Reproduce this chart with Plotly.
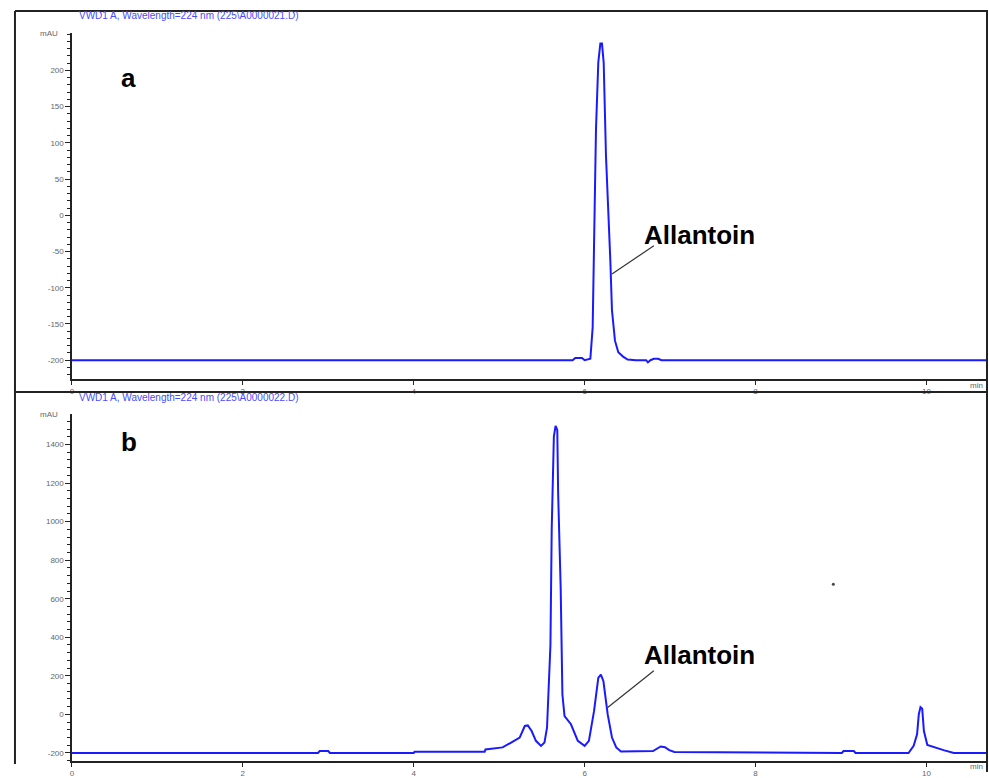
import plotly.graph_objects as go

OX, OY = 0, 0
W, H = 989, 778

# ---------------- data ----------------
# Panel a: retention time (min) and signal (mAU)
time_a = [0.0, 5.86, 5.89, 5.97, 6.00, 6.067, 6.094, 6.114, 6.133, 6.160, 6.184,
          6.203, 6.223, 6.250, 6.277, 6.301, 6.320, 6.355, 6.394, 6.45, 6.503,
          6.60, 6.72, 6.74, 6.77, 6.81, 6.834, 6.86, 6.90, 10.72]
signal_a = [-200, -200, -197, -197, -200, -198, -155, -18, 119, 211, 237,
            237, 211, 82, 10, -63, -131, -173, -189, -195, -199,
            -200, -200, -203, -200, -198, -198, -198, -200, -200]

# Panel b
time_b = [0.0, 2.88, 2.90, 3.00, 3.02, 4.00, 4.01, 4.83, 4.84, 5.04, 5.14, 5.24,
          5.30, 5.335, 5.38, 5.43, 5.49, 5.53, 5.56, 5.577, 5.60, 5.615, 5.64,
          5.66, 5.68, 5.69, 5.72, 5.74, 5.765, 5.84, 5.92, 6.00, 6.05, 6.11,
          6.16, 6.19, 6.22, 6.27, 6.32, 6.37, 6.425, 6.80, 6.85, 6.89, 6.94,
          6.99, 7.05, 9.01, 9.03, 9.15, 9.17, 9.79, 9.85, 9.89, 9.91, 9.93,
          9.95, 9.97, 10.01, 10.09, 10.20, 10.32, 10.72]
signal_b = [-200, -200, -190, -190, -200, -200, -193, -193, -182, -171, -146, -120,
            -60, -57, -86, -137, -163, -146, -69, 154, 360, 961, 1441,
            1496, 1475, 1150, 652, 103, -9, -51, -137, -163, -137, 17,
            189, 206, 172, 0, -120, -171, -192, -190, -175, -166, -170,
            -185, -195, -200, -190, -190, -200, -200, -163, -103, 0, 38,
            30, -86, -158, -170, -185, -200, -200]

# stray dot visible in panel b
dot_time = [8.91]
dot_signal = [675]

x_ticks = [0, 2, 4, 6, 8, 10]
y_ticks_a = [-200, -150, -100, -50, 0, 50, 100, 150, 200]
y_ticks_b = [-200, 0, 200, 400, 600, 800, 1000, 1200, 1400]

title_a = "VWD1 A, Wavelength=224 nm (225\\A0000021.D)"
title_b = "VWD1 A, Wavelength=224 nm (225\\A0000022.D)"
peak_label = "Allantoin"

# ---------------- figure ----------------
def px(x):
    return (x - OX) / W

def py(y):
    return 1 - (y - OY) / H

blue = "#1a1aff"
fig = go.Figure()
fig.add_trace(go.Scatter(x=time_a, y=signal_a, mode="lines",
                         line=dict(color=blue, width=2), xaxis="x", yaxis="y",
                         showlegend=False, hoverinfo="skip"))
fig.add_trace(go.Scatter(x=time_b, y=signal_b, mode="lines",
                         line=dict(color=blue, width=2), xaxis="x2", yaxis="y2",
                         showlegend=False, hoverinfo="skip"))
fig.add_trace(go.Scatter(x=dot_time, y=dot_signal, mode="markers",
                         marker=dict(color="#444", size=3), xaxis="x2", yaxis="y2",
                         showlegend=False, hoverinfo="skip"))

xdom = [px(70), px(988)]
tickfont = dict(family="Liberation Sans, Arial", size=8, color="#666")
xcommon = dict(domain=xdom, range=[0, 10.72], tickvals=x_ticks,
               ticktext=[str(v) for v in x_ticks],
               showgrid=False, zeroline=False, showline=True, linecolor="#222",
               linewidth=1.5, ticks="outside", ticklen=4, tickcolor="#222",
               tickfont=tickfont, fixedrange=True)
ycommon = dict(showgrid=False, zeroline=False, showline=True, linecolor="#222",
               linewidth=1.5, ticks="outside", ticklen=5, tickcolor="#222",
               tickfont=tickfont, fixedrange=True)

fig.update_layout(
    width=W, height=H,
    margin=dict(l=0, r=0, t=0, b=0),
    paper_bgcolor="white", plot_bgcolor="white",
    xaxis=dict(anchor="y", **xcommon),
    xaxis2=dict(anchor="y2", **xcommon),
    yaxis=dict(anchor="x", domain=[py(382), py(33)], range=[-226, 252],
               tickvals=y_ticks_a, ticktext=[str(v) for v in y_ticks_a],
               minor=dict(dtick=10, tick0=0, ticks="outside", ticklen=3,
                          tickcolor="#222"),
               **ycommon),
    yaxis2=dict(anchor="x2", domain=[py(767), py(417)], range=[-242, 1559],
                tickvals=y_ticks_b, ticktext=[str(v) for v in y_ticks_b],
                minor=dict(dtick=40, tick0=0, ticks="outside", ticklen=3,
                           tickcolor="#222"),
                **ycommon),
)

# frame lines
frame = dict(color="#222", width=2)
fig.add_shape(type="line", xref="paper", yref="paper", x0=px(13), x1=px(988),
              y0=py(11), y1=py(11), line=frame)
fig.add_shape(type="line", xref="paper", yref="paper", x0=px(13), x1=px(988),
              y0=py(395), y1=py(395), line=frame)
fig.add_shape(type="line", xref="paper", yref="paper", x0=px(13), x1=px(13),
              y0=py(11), y1=py(770), line=frame)
fig.add_shape(type="line", xref="paper", yref="paper", x0=px(987), x1=px(987),
              y0=py(11), y1=py(778), line=frame)

# pointer lines for labels
fig.add_shape(type="line", xref="x", yref="y", x0=6.32, y0=-81, x1=6.81, y1=-42,
              line=dict(color="#333", width=1.2))
fig.add_shape(type="line", xref="x2", yref="y2", x0=6.27, y0=36, x1=6.81, y1=226,
              line=dict(color="#333", width=1.2))

ann = []
small = dict(family="Liberation Sans, Arial", size=10, color="#4a4aff")
ann.append(dict(xref="paper", yref="paper", x=px(75), y=py(16), text=title_a,
                showarrow=False, xanchor="left", yanchor="middle", font=small))
ann.append(dict(xref="paper", yref="paper", x=px(75), y=py(401), text=title_b,
                showarrow=False, xanchor="left", yanchor="middle", font=small))
for yy in (34, 418):
    ann.append(dict(xref="paper", yref="paper", x=px(58), y=py(yy), text="mAU",
                    showarrow=False, xanchor="right", yanchor="middle",
                    font=tickfont))
for yy in (388, 772):
    ann.append(dict(xref="paper", yref="paper", x=px(985), y=py(yy), text="min",
                    showarrow=False, xanchor="right", yanchor="middle",
                    font=tickfont))
big = dict(family="Liberation Sans, Arial", size=26, color="black")
ann.append(dict(xref="paper", yref="paper", x=px(117), y=py(79), text="<b>a</b>",
                showarrow=False, xanchor="left", yanchor="middle", font=big))
ann.append(dict(xref="paper", yref="paper", x=px(117), y=py(445), text="<b>b</b>",
                showarrow=False, xanchor="left", yanchor="middle", font=big))
ann.append(dict(xref="x", yref="y", x=7.34, y=-27, text="<b>" + peak_label + "</b>",
                showarrow=False, xanchor="center", yanchor="middle", font=big))
ann.append(dict(xref="x2", yref="y2", x=7.34, y=309, text="<b>" + peak_label + "</b>",
                showarrow=False, xanchor="center", yanchor="middle", font=big))
fig.update_layout(annotations=ann)

fig.write_html(
    "out.html",
    config={"displayModeBar": False, "staticPlot": True},
    post_script="document.body.style.margin='0';"
                "document.documentElement.style.overflow='hidden';",
)
